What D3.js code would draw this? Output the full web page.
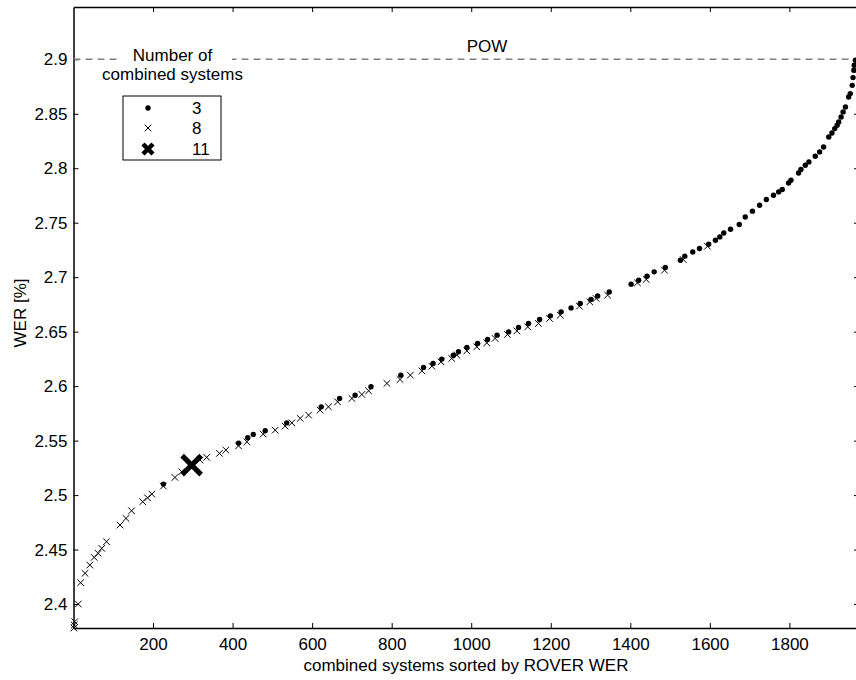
<!DOCTYPE html>
<html>
<head>
<meta charset="utf-8">
<script src="https://cdnjs.cloudflare.com/ajax/libs/d3/7.8.5/d3.min.js"></script>
<style>
  body { margin: 0; background: #fff; }
  svg { font-family: "Liberation Sans", Arial, Helvetica, sans-serif; }
</style>
</head>
<body>
<svg id="chart"></svg>
<script>
// rank (x) and WER (y) of each combination
const rank3 = [226, 415, 438, 452, 482, 536, 623, 669, 708, 748, 823, 880, 904, 926, 955, 968, 989, 1016, 1041, 1065,
  1094, 1119, 1144, 1172, 1199, 1226, 1251, 1274, 1301, 1318, 1347, 1402, 1421, 1442, 1460, 1488, 1526, 1537, 1557, 1574,
  1597, 1614, 1625, 1635, 1652, 1674, 1689, 1707, 1725, 1742, 1760, 1773, 1782, 1798, 1804, 1823, 1829, 1840, 1849, 1865,
  1876, 1886, 1899, 1907, 1914, 1920, 1924, 1930, 1935, 1941, 1949, 1953, 1958, 1960, 1962, 1963, 1966];
const wer3 = [2.5101, 2.5477, 2.5526, 2.5557, 2.559, 2.5663, 2.581, 2.5887, 2.5917, 2.5994, 2.6101, 2.6172, 2.6208, 2.6248, 2.6284, 2.6315, 2.6355, 2.6392, 2.6428, 2.6468,
  2.6498, 2.6539, 2.6575, 2.6612, 2.6645, 2.6682, 2.6718, 2.6759, 2.6795, 2.6828, 2.6865, 2.6936, 2.6972, 2.7009, 2.7049, 2.7089, 2.7156, 2.7193, 2.7232, 2.7263,
  2.7303, 2.7339, 2.737, 2.7406, 2.744, 2.7483, 2.7553, 2.7606, 2.7661, 2.7713, 2.7752, 2.7783, 2.7805, 2.7865, 2.789, 2.7957, 2.7988, 2.8028, 2.8058, 2.811,
  2.815, 2.8195, 2.8287, 2.8324, 2.8364, 2.8395, 2.8425, 2.8471, 2.8517, 2.8562, 2.8654, 2.8685, 2.8761, 2.8832, 2.8899, 2.8945, 2.8991];

const rank8 = [1, 2, 3, 12, 18, 29, 41, 52, 62, 71, 83, 117, 132, 146, 174, 186, 197, 226, 255, 272,
  318, 335, 367, 383, 415, 436, 477, 507, 532, 549, 570, 591, 620, 641, 664, 700, 725, 742, 788, 821,
  847, 876, 901, 924, 951, 964, 989, 1014, 1039, 1060, 1091, 1115, 1142, 1169, 1197, 1224, 1272, 1298, 1314, 1343,
  1418, 1440, 1486, 1533, 1594];
const wer8 = [2.378, 2.3807, 2.3838, 2.400, 2.4196, 2.4282, 2.4358, 2.4428, 2.4465, 2.4511, 2.4572, 2.4725, 2.4786, 2.4856, 2.4939, 2.4975, 2.5009, 2.5083, 2.5162, 2.5214,
  2.5321, 2.5346, 2.5383, 2.5413, 2.5452, 2.5489, 2.556, 2.5596, 2.5633, 2.5663, 2.5704, 2.5734, 2.578, 2.581, 2.5856, 2.5887, 2.5924, 2.5957, 2.6025, 2.6061,
  2.6101, 2.614, 2.6183, 2.6223, 2.6254, 2.6284, 2.6324, 2.6361, 2.6397, 2.6438, 2.6474, 2.6507, 2.6544, 2.6575, 2.6621, 2.6651, 2.6734, 2.6773, 2.6805, 2.6835,
  2.6948, 2.6979, 2.7064, 2.7162, 2.7284];

const rank11 = [297];
const wer11 = [2.5275];

const powWer = 2.9;
const xTicks = [200, 400, 600, 800, 1000, 1200, 1400, 1600, 1800];
const yTicks = [2.4, 2.45, 2.5, 2.55, 2.6, 2.65, 2.7, 2.75, 2.8, 2.85, 2.9];
const legendLabels = ['3', '8', '11'];

const W = 856, H = 680;
const margin = { top: 7, right: -3, bottom: 52, left: 73.5 };
const width = W - margin.left - margin.right;
const height = H - margin.top - margin.bottom;
const fontSize = '17px';

const svg = d3.select('#chart').attr('width', W).attr('height', H);
const chart = svg.append('g').attr('transform', `translate(${margin.left},${margin.top})`);

const x = d3.scaleLinear().domain([0, 1975]).range([0, width]);
const y = d3.scaleLinear().domain([2.378, 2.948]).range([height, 0]);

const fmt = d => String(+d.toFixed(2));

// axes (matlab style box, ticks inward)
const axes = [
  { g: chart.append('g').attr('transform', `translate(0,${height})`), ax: d3.axisBottom(x).tickValues(xTicks).tickSize(-5).tickPadding(10).tickFormat(fmt) },
  { g: chart.append('g'), ax: d3.axisTop(x).tickValues(xTicks).tickSize(-5).tickFormat('') },
  { g: chart.append('g'), ax: d3.axisLeft(y).tickValues(yTicks).tickSize(-5).tickPadding(6).tickFormat(fmt) },
  { g: chart.append('g').attr('transform', `translate(${width},0)`), ax: d3.axisRight(y).tickValues(yTicks).tickSize(-5).tickFormat('') }
];
axes.forEach(a => {
  a.g.call(a.ax.tickSizeOuter(0));
  a.g.select('.domain').attr('stroke', '#000').attr('stroke-width', 1.5);
  a.g.selectAll('.tick line').attr('stroke', '#000').attr('stroke-width', 1);
  a.g.selectAll('.tick text').attr('font-size', fontSize).attr('fill', '#000')
    .attr('font-family', '"Liberation Sans", Arial, sans-serif');
});

// POW reference line
chart.append('line')
  .attr('x1', 0).attr('x2', width)
  .attr('y1', y(powWer)).attr('y2', y(powWer))
  .attr('stroke', '#7f7f7f').attr('stroke-width', 1.4)
  .attr('stroke-dasharray', '7,5');

chart.append('text')
  .attr('x', 487 - margin.left).attr('y', y(powWer) - 7)
  .attr('text-anchor', 'middle').attr('font-size', fontSize)
  .text('POW');

// legend title sits on a white patch over the dashed line
const legX = 172.5 - margin.left;
chart.append('rect')
  .attr('x', 118 - margin.left).attr('y', 38).attr('width', 114).attr('height', 40)
  .attr('fill', '#fff');
chart.append('text')
  .attr('x', legX).attr('y', 61 - margin.top).attr('text-anchor', 'middle').attr('font-size', fontSize)
  .text('Number of');
chart.append('text')
  .attr('x', legX).attr('y', 80 - margin.top).attr('text-anchor', 'middle').attr('font-size', fontSize)
  .text('combined systems');

// markers
const crossPath = s => `M${-s},${-s}L${s},${s}M${-s},${s}L${s},${-s}`;

chart.selectAll('.dot3')
  .data(rank3.map((r, i) => [r, wer3[i]]))
  .enter().append('circle')
  .attr('class', 'dot3')
  .attr('cx', d => x(d[0])).attr('cy', d => y(d[1]))
  .attr('r', 2.7).attr('fill', '#000');

chart.selectAll('.cross8')
  .data(rank8.map((r, i) => [r, wer8[i]]))
  .enter().append('path')
  .attr('class', 'cross8')
  .attr('transform', d => `translate(${x(d[0])},${y(d[1])})`)
  .attr('d', crossPath(3.3))
  .attr('stroke', '#000').attr('stroke-width', 1).attr('fill', 'none');

chart.selectAll('.cross11')
  .data(rank11.map((r, i) => [r, wer11[i]]))
  .enter().append('path')
  .attr('class', 'cross11')
  .attr('transform', d => `translate(${x(d[0])},${y(d[1])})`)
  .attr('d', crossPath(9.5))
  .attr('stroke', '#000').attr('stroke-width', 5).attr('fill', 'none');

// legend box
const legend = chart.append('g').attr('transform', `translate(${123 - margin.left},${96 - margin.top})`);
legend.append('rect')
  .attr('width', 98).attr('height', 64)
  .attr('fill', '#fff').attr('stroke', '#000').attr('stroke-width', 1);
const rows = [12, 32, 53];
legend.append('circle').attr('cx', 25).attr('cy', rows[0]).attr('r', 2.7).attr('fill', '#000');
legend.append('path').attr('transform', `translate(25,${rows[1]})`).attr('d', crossPath(3.3))
  .attr('stroke', '#000').attr('stroke-width', 1);
legend.append('path').attr('transform', `translate(25,${rows[2]})`).attr('d', crossPath(5))
  .attr('stroke', '#000').attr('stroke-width', 4.5);
legend.selectAll('.legtxt')
  .data(legendLabels)
  .enter().append('text')
  .attr('class', 'legtxt')
  .attr('x', 69).attr('y', (d, i) => rows[i] + 6)
  .attr('font-size', fontSize)
  .text(d => d);

// axis titles
svg.append('text')
  .attr('x', 466).attr('y', 671)
  .attr('text-anchor', 'middle').attr('font-size', fontSize)
  .text('combined systems sorted by ROVER WER');

svg.append('text')
  .attr('transform', 'translate(26,313) rotate(-90)')
  .attr('text-anchor', 'middle').attr('font-size', fontSize)
  .text('WER [%]');
</script>
</body>
</html>
